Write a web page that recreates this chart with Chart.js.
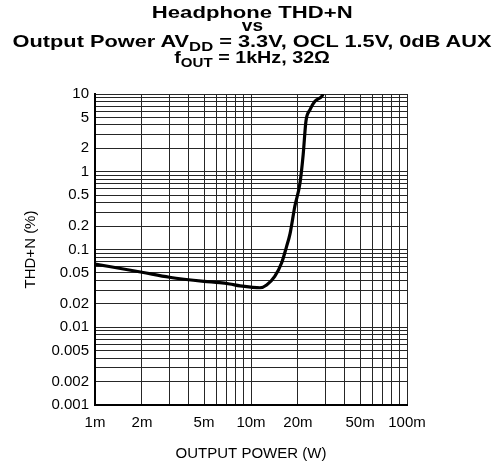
<!DOCTYPE html>
<html>
<head>
<meta charset="utf-8">
<script src="https://cdn.jsdelivr.net/npm/chart.js@4.4.1/dist/chart.umd.min.js"></script>
<style>
  html, body { margin: 0; padding: 0; background: #fff; }
  #wrap { position: relative; width: 504px; height: 466px; font-family: "Liberation Sans", Arial, sans-serif; }
  #wrap canvas { position: absolute; left: 0; top: 0; }
  .ttl { position: absolute; left: 0; width: 504px; text-align: center; font-weight: bold; font-size: 17px; line-height: 17px; color: #000; white-space: nowrap; }
  .ttl span { display: inline-block; }
  .ttl sub { font-size: 13px; vertical-align: -4px; line-height: 0; }
</style>
</head>
<body>
<div id="wrap">
  <canvas id="thd" width="504" height="466"></canvas>
  <div class="ttl" style="top:4px"><span style="transform:scaleX(1.3)">Headphone THD+N</span></div>
  <div class="ttl" style="top:17px"><span style="transform:scaleX(1.12)">vs</span></div>
  <div class="ttl" style="top:33px"><span style="transform:scaleX(1.28)">Output Power AV<sub>DD</sub> = 3.3V, OCL 1.5V, 0dB AUX</span></div>
  <div class="ttl" style="top:49px"><span style="transform:scaleX(1.16)">f<sub>OUT</sub> = 1kHz, 32Ω</span></div>
</div>
<script>
// THD+N vs output power, 32 ohm headphone load
const powerW = [0.001, 0.002, 0.003, 0.005, 0.0063, 0.0073, 0.0085, 0.010, 0.0114, 0.0126,
                0.0142, 0.0157, 0.0169, 0.0178, 0.0191, 0.0206, 0.0216, 0.0225, 0.0239,
                0.0257, 0.0284, 0.029];
const thdPct = [0.065, 0.051, 0.044, 0.039, 0.0375, 0.036, 0.034, 0.0328, 0.0322, 0.035,
                0.045, 0.067, 0.109, 0.16, 0.36, 0.71, 1.66, 4.46, 6.3,
                8.05, 9.3, 10];

// log grid: every 1..9 step in each decade
const steps = [1, 2, 3, 4, 5, 6, 7, 8, 9];
const xDecades = [0.001, 0.01];
const yDecades = [0.001, 0.01, 0.1, 1];
const xLabelVals = [0.001, 0.002, 0.005, 0.01, 0.02, 0.05, 0.1];
const xLabelText = ['1m', '2m', '5m', '10m', '20m', '50m', '100m'];
const yLabelVals = [0.001, 0.002, 0.005, 0.01, 0.02, 0.05, 0.1, 0.2, 0.5, 1, 2, 5, 10];
const yLabelText = ['0.001', '0.002', '0.005', '0.01', '0.02', '0.05', '0.1', '0.2', '0.5', '1', '2', '5', '10'];

function gridValues(decades) {
  const out = [];
  decades.forEach(d => steps.forEach(s => out.push(Number((s * d).toPrecision(3)))));
  out.push(Number((decades[decades.length - 1] * 10).toPrecision(3)));
  return out;
}
function labelFor(v, vals, text) {
  const i = vals.findIndex(a => Math.abs(a - v) / a < 1e-6);
  return i < 0 ? '' : text[i];
}

const tickFont = { family: '"Liberation Sans", Arial, sans-serif', size: 15 };
const gridStyle = { color: '#262626', lineWidth: 1, drawTicks: false };

new Chart(document.getElementById('thd'), {
  type: 'line',
  data: {
    datasets: [{
      data: powerW.map((p, i) => ({ x: p, y: thdPct[i] })),
      borderColor: '#000',
      borderWidth: 3.2,
      pointRadius: 0,
      fill: false,
      tension: 0.4,
      cubicInterpolationMode: 'monotone'
    }]
  },
  options: {
    responsive: false,
    animation: false,
    layout: { padding: { top: 94, right: 97, left: 0, bottom: 0 } },
    plugins: { legend: { display: false }, tooltip: { enabled: false } },
    scales: {
      x: {
        type: 'logarithmic',
        min: 0.001,
        max: 0.1,
        afterBuildTicks: s => { s.ticks = gridValues(xDecades).map(v => ({ value: v })); },
        afterFit: s => { s.height = 61; },
        grid: gridStyle,
        border: { color: '#000', width: 2 },
        ticks: {
          autoSkip: false, maxRotation: 0, padding: 9, color: '#000', font: tickFont,
          callback: v => labelFor(v, xLabelVals, xLabelText)
        },
        title: {
          display: true, text: 'OUTPUT POWER (W)', color: '#000',
          font: tickFont, padding: { top: 0, bottom: 3 }
        }
      },
      y: {
        type: 'logarithmic',
        min: 0.001,
        max: 10,
        afterBuildTicks: s => { s.ticks = gridValues(yDecades).map(v => ({ value: v })); },
        afterFit: s => { s.width = 95; },
        grid: gridStyle,
        border: { color: '#000', width: 2 },
        ticks: {
          autoSkip: false, padding: 6, color: '#000', font: tickFont,
          callback: v => labelFor(v, yLabelVals, yLabelText)
        },
        title: {
          display: true, text: 'THD+N (%)', color: '#000',
          font: tickFont, padding: { top: 22, bottom: 0 }
        }
      }
    }
  }
});
</script>
</body>
</html>
